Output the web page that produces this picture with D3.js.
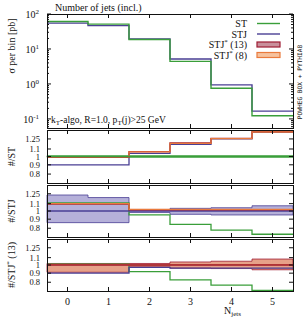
<!DOCTYPE html>
<html>
<head>
<meta charset="utf-8">
<script src="https://cdn.jsdelivr.net/npm/d3@7"></script>
<style>
  body { margin: 0; background: #fff; }
  text { font-family: "Liberation Serif", "DejaVu Serif", serif; fill: #111; }
</style>
</head>
<body>
<div id="chart"></div>
<script>
// bins (number of jets) and values
const nJets = [0, 1, 2, 3, 4, 5];
const xTicks = [0, 1, 2, 3, 4, 5];

// main panel: cross section per bin [pb]
const stXsec  = [61, 51.5, 18.6, 4.42, 0.75, 0.123];
const stjXsec = [55, 46.5, 19.4, 5.15, 0.94, 0.167];

// ratio panel 1: #/ST
const r1Stj    = [0.90, 0.90, 1.04, 1.168, 1.25, 1.36];
const r1Stj13  = [0.99, 0.99, 1.063, 1.187, 1.26, 1.37];
const r1Stj8   = [0.995, 0.995, 1.06, 1.18, 1.255, 1.365];
const r1BandLo = [0.99, 0.99, 0.99, 0.99, 0.99, 0.99];
const r1BandHi = [1.01, 1.01, 1.01, 1.01, 1.01, 1.01];

// ratio panel 2: #/STJ
const r2St     = [1.11, 1.11, 0.95, 0.84, 0.78, 0.74];
const r2Stj13  = [1.095, 1.095, 1.015, 1.015, 1.015, 1.015];
const r2Stj8   = [1.10, 1.10, 1.02, 1.02, 1.02, 1.02];
const r2BandLo = [0.86, 0.86, 0.98, 0.958, 0.95, 0.95];
const r2BandHi = [1.23, 1.19, 1.02, 1.035, 1.043, 1.07];

// ratio panel 3: #/STJ* (13)
const r3St     = [1.01, 1.01, 0.917, 0.824, 0.77, 0.72];
const r3Stj    = [0.90, 0.90, 0.97, 0.96, 0.96, 0.96];
const r3Stj8   = [1.005, 1.005, 1.0, 1.005, 1.005, 1.005];
const r3BandLo = [0.91, 0.91, 0.975, 0.96, 0.955, 0.94];
const r3BandHi = [1.02, 1.02, 1.02, 1.04, 1.05, 1.08];

const ratioTicks = [0.8, 0.9, 1, 1.1, 1.25];
const mainTicks = [0.1, 1, 10, 100];

const colors = { st: '#3a9e3a', stj: '#4a3f94', stj13: '#9e1c32', stj8: '#ea7a3c' };

const width = 307, height = 320;
const left = 47, right = 293;

const svg = d3.select('#chart').append('svg')
  .attr('width', width)
  .attr('height', height);

const x = d3.scaleLinear().domain([-0.5, 5.5]).range([left, right]);

const yMain = d3.scaleLog().domain([0.055, 100]).range([128, 14]);

const panels = [
  { top: 130, bottom: 183, label: '#/ST' },
  { top: 185, bottom: 237, label: '#/STJ' },
  { top: 239, bottom: 291, label: '#/STJ* (13)' }
];
panels.forEach(p => {
  p.y = d3.scaleLog().domain([1 / 1.4, 1.4]).range([p.bottom, p.top]);
});

// step helpers: each bin spans n-0.5 .. n+0.5
function stepPoints(vals) {
  const pts = nJets.map((n, i) => [n - 0.5, vals[i]]);
  pts.push([nJets[nJets.length - 1] + 0.5, vals[vals.length - 1]]);
  return pts;
}

function drawStep(g, y, vals, color, w) {
  const line = d3.line()
    .x(d => x(d[0]))
    .y(d => y(d[1]))
    .curve(d3.curveStepAfter);
  g.append('path')
    .attr('d', line(stepPoints(vals)))
    .style('fill', 'none')
    .style('stroke', color)
    .style('stroke-width', w || 1.4);
}

function drawBand(g, y, lo, hi, fill, stroke, opacity) {
  const pts = nJets.map((n, i) => [n - 0.5, lo[i], hi[i]]);
  pts.push([nJets[nJets.length - 1] + 0.5, lo[lo.length - 1], hi[hi.length - 1]]);
  const area = d3.area()
    .x(d => x(d[0]))
    .y0(d => y(d[1]))
    .y1(d => y(d[2]))
    .curve(d3.curveStepAfter);
  g.append('path')
    .attr('d', area(pts))
    .style('fill', fill)
    .style('fill-opacity', opacity)
    .style('stroke', stroke)
    .style('stroke-width', 0.8);
}

function frame(top, bottom) {
  svg.append('rect')
    .attr('x', left + 0.5)
    .attr('y', top + 0.5)
    .attr('width', right - left)
    .attr('height', bottom - top)
    .style('fill', 'none')
    .style('stroke', '#111')
    .style('stroke-width', 1);
}

function xTickMarks(top, bottom) {
  xTicks.forEach(t => {
    svg.append('line')
      .attr('x1', x(t)).attr('x2', x(t))
      .attr('y1', top).attr('y2', top + 4)
      .style('stroke', '#111');
    svg.append('line')
      .attr('x1', x(t)).attr('x2', x(t))
      .attr('y1', bottom).attr('y2', bottom - 4)
      .style('stroke', '#111');
  });
}

function yTickMark(yy, len) {
  svg.append('line')
    .attr('x1', left).attr('x2', left + len)
    .attr('y1', yy).attr('y2', yy)
    .style('stroke', '#111');
  svg.append('line')
    .attr('x1', right).attr('x2', right - len)
    .attr('y1', yy).attr('y2', yy)
    .style('stroke', '#111');
}

// ---- main panel
const gMain = svg.append('g');
drawStep(gMain, yMain, stjXsec, colors.stj, 1.4);
drawStep(gMain, yMain, stXsec, colors.st, 1.4);
frame(14, 128);
xTickMarks(14, 128);

mainTicks.forEach(t => {
  yTickMark(yMain(t), 4);
  const txt = svg.append('text')
    .attr('x', 39)
    .attr('y', yMain(t) + 4)
    .attr('text-anchor', 'end')
    .style('font-size', '10px');
  txt.append('tspan').text('10');
  txt.append('tspan')
    .attr('dy', -4)
    .style('font-size', '7px')
    .text(Math.round(Math.log10(t)));
});
[0.1, 1, 10].forEach(dec => {
  for (let k = 2; k <= 9; k++) {
    yTickMark(yMain(dec * k), 2);
  }
});
[0.06, 0.07, 0.08, 0.09].forEach(v => yTickMark(yMain(v), 2));

svg.append('text')
  .attr('x', 55)
  .attr('y', 11)
  .style('font-size', '10px')
  .text('Number of jets (incl.)');

svg.append('text')
  .attr('transform', 'translate(15,46) rotate(-90)')
  .attr('text-anchor', 'middle')
  .style('font-size', '10px')
  .text('σ per bin [pb]');

const kt = svg.append('text')
  .attr('x', 51)
  .attr('y', 123)
  .style('font-size', '9.5px');
kt.append('tspan').text('k');
kt.append('tspan').attr('dy', 2).style('font-size', '7px').text('T');
kt.append('tspan').attr('dy', -2).text('-algo, R=1.0, p');
kt.append('tspan').attr('dy', 2).style('font-size', '7px').text('T');
kt.append('tspan').attr('dy', -2).text('(j)>25 GeV');

svg.append('text')
  .attr('transform', 'translate(302,82) rotate(-90)')
  .attr('text-anchor', 'middle')
  .style('font-family', '"DejaVu Sans Mono", monospace')
  .style('font-size', '6.2px')
  .text('POWHEG BOX + PYTHIA8');

// legend
const legend = [
  { name: 'ST', color: colors.st, box: false },
  { name: 'STJ', color: colors.stj, box: false },
  { name: 'STJ', sup: '*', tail: ' (13)', color: colors.stj13, box: true, fill: '#c98f9b' },
  { name: 'STJ', sup: '*', tail: ' (8)', color: colors.stj8, box: true, fill: '#f6c29e' }
];
legend.forEach((d, i) => {
  const yy = 23.5 + i * 10.5;
  const t = svg.append('text')
    .attr('x', 247)
    .attr('y', yy + 3.5)
    .attr('text-anchor', 'end')
    .style('font-size', '10px');
  t.append('tspan').text(d.name);
  if (d.sup) {
    t.append('tspan').attr('dy', -4).style('font-size', '7px').text(d.sup);
    t.append('tspan').attr('dy', 4).text(d.tail);
  }
  if (d.box) {
    svg.append('rect')
      .attr('x', 257).attr('y', yy - 2.5)
      .attr('width', 23).attr('height', 5)
      .style('fill', d.fill)
      .style('stroke', d.color)
      .style('stroke-width', 1.2);
  } else {
    svg.append('line')
      .attr('x1', 257).attr('x2', 280)
      .attr('y1', yy).attr('y2', yy)
      .style('stroke', d.color)
      .style('stroke-width', 1.4);
  }
});

// ---- ratio panels
const g1 = svg.append('g');
drawBand(g1, panels[0].y, r1BandLo, r1BandHi, colors.st, colors.st, 0.6);
drawStep(g1, panels[0].y, r1Stj, colors.stj, 1.3);
drawStep(g1, panels[0].y, r1Stj13, colors.stj13, 1.3);
drawStep(g1, panels[0].y, r1Stj8, colors.stj8, 1.3);
drawStep(g1, panels[0].y, [1, 1, 1, 1, 1, 1], colors.st, 1.3);

const g2 = svg.append('g');
drawBand(g2, panels[1].y, r2BandLo, r2BandHi, '#a8a2d2', colors.stj, 0.85);
drawStep(g2, panels[1].y, r2St, colors.st, 1.3);
drawStep(g2, panels[1].y, [1, 1, 1, 1, 1, 1], colors.stj, 1.3);
drawStep(g2, panels[1].y, r2Stj13, colors.stj13, 1.3);
drawStep(g2, panels[1].y, r2Stj8, colors.stj8, 1.3);

const g3 = svg.append('g');
drawBand(g3, panels[2].y, r3BandLo, r3BandHi, '#e4977c', colors.stj13, 0.9);
drawStep(g3, panels[2].y, r3St, colors.st, 1.3);
drawStep(g3, panels[2].y, r3Stj, colors.stj, 1.3);
drawStep(g3, panels[2].y, r3Stj8, colors.stj8, 1.3);
drawStep(g3, panels[2].y, [1, 1, 1, 1, 1, 1], colors.stj13, 1.3);

panels.forEach(p => {
  frame(p.top, p.bottom);
  xTickMarks(p.top, p.bottom);
  ratioTicks.forEach(t => {
    yTickMark(p.y(t), 4);
    svg.append('text')
      .attr('x', 40)
      .attr('y', p.y(t) + 3)
      .attr('text-anchor', 'end')
      .style('font-size', '8.5px')
      .text(t);
  });
  const mid = (p.top + p.bottom) / 2;
  const lab = svg.append('text')
    .attr('transform', `translate(15,${mid}) rotate(-90)`)
    .attr('text-anchor', 'middle')
    .style('font-size', '10px');
  if (p.label.indexOf('*') >= 0) {
    lab.append('tspan').text('#/STJ');
    lab.append('tspan').attr('dy', -4).style('font-size', '7px').text('*');
    lab.append('tspan').attr('dy', 4).text(' (13)');
  } else {
    lab.text(p.label);
  }
});

// x axis labels
xTicks.forEach(t => {
  svg.append('text')
    .attr('x', x(t))
    .attr('y', 305)
    .attr('text-anchor', 'middle')
    .style('font-size', '10px')
    .text(t);
});

const xl = svg.append('text')
  .attr('x', 224)
  .attr('y', 314)
  .style('font-size', '10px');
xl.append('tspan').text('N');
xl.append('tspan').attr('dy', 2).style('font-size', '7px').text('jets');
</script>
</body>
</html>
